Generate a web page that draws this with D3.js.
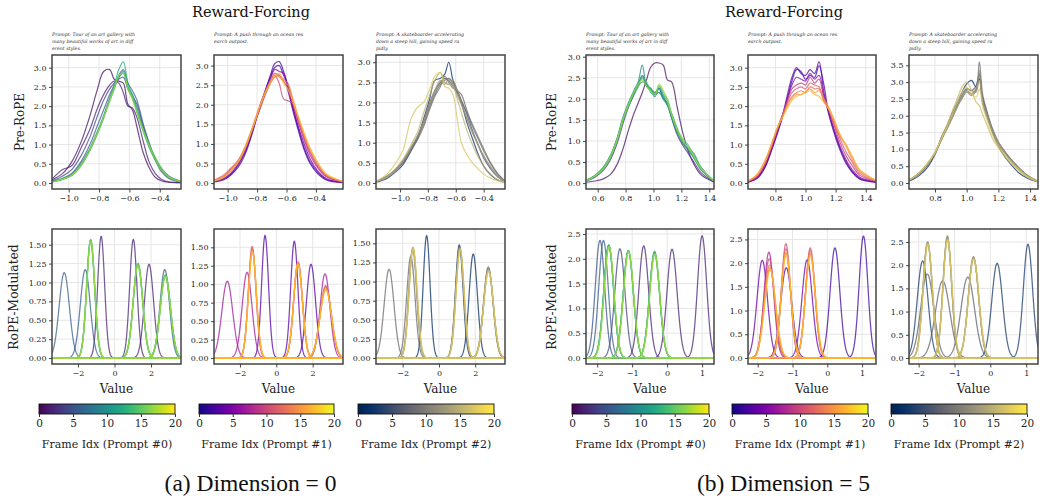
<!DOCTYPE html>
<html><head><meta charset="utf-8">
<script src="https://cdn.jsdelivr.net/npm/d3@7"></script>
<style>body{margin:0;background:#fff} svg{display:block} text{font-family:"DejaVu Serif",serif}</style>
</head><body><svg id="c" width="1043" height="500"></svg>
<script>
// ---------------- DATA ----------------
const titles = ["Reward-Forcing", "Reward-Forcing"];
const captions = ["(a) Dimension = 0", "(b) Dimension = 5"];
const rowLabels = ["Pre-RoPE", "RoPE-Modulated"];
const prompts = [
  ["Prompt: Tour of an art gallery with", "many beautiful works of art in diff", "erent styles."],
  ["Prompt: A push through an ocean res", "earch outpost."],
  ["Prompt: A skateboarder accelerating", "down a steep hill, gaining speed ra", "pidly."]
];
const cbLabels = ["Frame Idx (Prompt #0)", "Frame Idx (Prompt #1)", "Frame Idx (Prompt #2)"];
const cbTicks = [0, 5, 10, 15, 20];
const frameMax = 20;

// Pre-RoPE tick values
const preXTicksA = [-1.0, -0.8, -0.6, -0.4];
const preXTicksB0 = [0.6, 0.8, 1.0, 1.2, 1.4];
const preXTicksB = [0.8, 1.0, 1.2, 1.4];
const preYTicks3 = [0, 0.5, 1.0, 1.5, 2.0, 2.5, 3.0];
const preYTicks35 = [0, 0.5, 1.0, 1.5, 2.0, 2.5, 3.0, 3.5];
const ropeXTicksA = [-2, 0, 2];
const ropeXTicksB = [-2, -1, 0, 1];
const ropeYTicksA = [0, 0.25, 0.5, 0.75, 1.0, 1.25, 1.5];
const ropeYTicksB = [0, 0.5, 1.0, 1.5, 2.0, 2.5];

// Pre-RoPE density curves (knot x, frame index, y per knot)
const preA0_x = [-1.11,-1.04,-0.98,-0.92,-0.86,-0.81,-0.77,-0.73,-0.70,-0.67,-0.64,-0.61,-0.58,-0.55,-0.51,-0.47,-0.43,-0.39,-0.34,-0.26];
const preA0_frames = [1, 2, 4, 6, 8, 10, 12, 15, 17];
const preA0_y = [
  [0.08,0.25,0.55,1.05,1.75,2.45,2.90,2.95,2.70,2.65,2.60,2.05,1.90,1.45,0.80,0.40,0.15,0.06,0.02,0.01],
  [0.10,0.35,0.45,0.90,1.40,1.95,2.30,2.55,2.65,2.60,2.35,2.00,1.95,1.70,1.10,0.55,0.25,0.10,0.03,0.01],
  [0.05,0.18,0.35,0.70,1.20,1.75,2.15,2.45,2.60,2.70,2.75,2.45,2.25,2.05,1.50,1.00,0.60,0.30,0.12,0.02],
  [0.04,0.12,0.25,0.55,1.00,1.50,1.90,2.30,2.55,2.80,2.95,2.60,2.40,2.15,1.55,1.05,0.62,0.36,0.15,0.03],
  [0.03,0.10,0.22,0.50,0.90,1.35,1.75,2.20,2.50,2.75,2.90,2.50,2.30,1.95,1.45,1.00,0.65,0.38,0.18,0.04],
  [0.04,0.11,0.21,0.45,0.85,1.30,1.70,2.15,2.45,2.75,2.85,2.45,2.20,1.85,1.40,0.98,0.62,0.36,0.16,0.03],
  [0.03,0.09,0.20,0.46,0.88,1.32,1.72,2.18,2.52,2.95,3.15,2.60,2.25,1.85,1.35,0.92,0.60,0.34,0.15,0.03],
  [0.03,0.10,0.19,0.44,0.85,1.28,1.68,2.12,2.45,2.78,2.90,2.50,2.25,1.88,1.40,1.00,0.68,0.40,0.17,0.03],
  [0.03,0.10,0.21,0.47,0.88,1.32,1.72,2.15,2.48,2.80,2.85,2.45,2.18,1.82,1.38,0.96,0.62,0.35,0.15,0.03]
];
const preA1_x = [-1.09,-1.03,-0.98,-0.93,-0.88,-0.83,-0.79,-0.75,-0.71,-0.68,-0.65,-0.62,-0.59,-0.56,-0.52,-0.48,-0.44,-0.39,-0.33,-0.22];
const preA1_frames = [2, 3, 5, 8, 10, 12, 15, 17];
const preA1_y = [
  [0.03,0.08,0.20,0.40,0.75,1.30,1.85,2.30,2.75,3.05,3.10,2.85,2.45,1.90,1.35,0.85,0.50,0.25,0.08,0.01],
  [0.04,0.10,0.22,0.45,0.80,1.35,1.85,2.30,2.70,2.95,3.00,2.75,2.50,2.00,1.40,0.90,0.55,0.28,0.10,0.02],
  [0.04,0.12,0.25,0.48,0.85,1.40,1.80,2.25,2.65,2.90,2.85,2.80,2.35,1.95,1.45,1.00,0.62,0.32,0.12,0.02],
  [0.05,0.15,0.30,0.52,0.88,1.40,1.85,2.25,2.60,2.80,2.75,2.60,2.40,2.05,1.55,1.10,0.72,0.40,0.16,0.03],
  [0.06,0.16,0.35,0.55,0.90,1.40,1.80,2.20,2.55,2.75,2.55,2.15,2.10,2.05,1.60,1.15,0.78,0.44,0.18,0.03],
  [0.08,0.20,0.38,0.58,0.92,1.42,1.85,2.25,2.55,2.70,2.75,2.65,2.55,2.15,1.65,1.20,0.82,0.48,0.20,0.04],
  [0.06,0.15,0.32,0.55,0.95,1.45,1.90,2.30,2.60,2.80,2.70,2.60,2.50,2.20,1.70,1.25,0.88,0.52,0.22,0.04],
  [0.05,0.14,0.30,0.52,0.90,1.40,1.85,2.25,2.55,2.75,2.80,2.55,2.40,2.10,1.70,1.28,0.90,0.55,0.24,0.05]
];
const preA2_x = [-1.17,-1.10,-1.04,-0.98,-0.92,-0.87,-0.83,-0.79,-0.75,-0.71,-0.68,-0.65,-0.62,-0.59,-0.56,-0.52,-0.48,-0.44,-0.40,-0.35,-0.30,-0.25];
const preA2_frames = [2, 5, 8, 9, 11, 13, 15, 17];
const preA2_y = [
  [0.02,0.10,0.25,0.45,0.80,1.15,1.60,2.05,2.55,2.60,2.70,3.00,2.55,2.30,2.00,1.50,1.10,0.72,0.42,0.20,0.07,0.02],
  [0.04,0.14,0.30,0.50,0.85,1.20,1.55,1.95,2.30,2.50,2.60,2.55,2.40,2.25,2.05,1.70,1.30,0.95,0.62,0.35,0.15,0.03],
  [0.03,0.15,0.32,0.55,0.85,1.15,1.45,1.85,2.20,2.45,2.55,2.60,2.50,2.30,2.20,1.80,1.40,1.10,0.80,0.48,0.22,0.05],
  [0.04,0.16,0.30,0.50,0.82,1.10,1.40,1.80,2.15,2.40,2.65,2.50,2.35,2.30,2.05,1.75,1.45,1.15,0.85,0.50,0.24,0.06],
  [0.03,0.14,0.28,0.52,0.86,1.18,1.50,1.90,2.25,2.50,2.45,2.60,2.45,2.20,1.95,1.60,1.25,0.95,0.68,0.40,0.18,0.04],
  [0.03,0.13,0.30,0.55,0.90,1.20,1.55,1.95,2.30,2.55,2.50,2.45,2.55,2.30,2.00,1.60,1.25,0.95,0.65,0.38,0.16,0.04],
  [0.04,0.15,0.32,0.58,0.95,1.30,1.75,2.15,2.55,2.75,2.50,2.45,2.40,2.10,1.75,1.30,0.95,0.65,0.42,0.22,0.08,0.02],
  [0.05,0.20,0.45,0.80,1.60,1.90,2.00,2.30,2.65,2.75,2.40,2.35,2.20,1.60,1.00,0.70,0.50,0.35,0.22,0.12,0.05,0.02]
];
const preB0_x = [0.52,0.58,0.64,0.69,0.74,0.78,0.82,0.86,0.89,0.92,0.95,0.98,1.01,1.04,1.07,1.10,1.13,1.17,1.21,1.25,1.29,1.34,1.43];
const preB0_frames = [1, 3, 6, 9, 11, 13, 15, 17];
const preB0_y = [
  [0.02,0.05,0.10,0.20,0.45,0.80,1.25,1.65,1.90,2.15,2.45,2.75,2.85,2.85,2.80,2.45,2.40,1.80,1.20,0.75,0.45,0.20,0.03],
  [0.05,0.14,0.30,0.55,0.95,1.40,1.80,2.10,2.30,2.55,2.35,2.20,2.15,2.25,2.00,1.90,1.55,1.15,0.90,0.70,0.50,0.25,0.04],
  [0.06,0.17,0.35,0.62,1.05,1.50,1.85,2.15,2.35,2.50,2.30,2.25,2.10,2.15,2.05,1.85,1.55,1.20,0.95,0.78,0.60,0.32,0.05],
  [0.07,0.18,0.38,0.65,1.08,1.55,1.90,2.20,2.40,2.80,2.30,2.20,2.05,2.25,2.00,1.85,1.65,1.30,1.00,0.85,0.70,0.38,0.06],
  [0.06,0.16,0.34,0.60,1.02,1.48,1.82,2.10,2.30,2.40,2.35,2.15,2.10,2.30,2.10,1.95,1.60,1.25,1.00,0.80,0.65,0.36,0.06],
  [0.06,0.17,0.36,0.63,1.06,1.52,1.88,2.18,2.35,2.55,2.35,2.25,2.15,2.15,2.00,1.88,1.58,1.22,0.98,0.82,0.60,0.34,0.05],
  [0.07,0.18,0.37,0.64,1.05,1.50,1.86,2.15,2.28,2.50,2.40,2.20,2.12,2.30,2.15,2.00,1.65,1.28,1.05,0.90,0.62,0.35,0.06],
  [0.06,0.16,0.34,0.61,1.03,1.49,1.84,2.16,2.35,2.45,2.30,2.18,2.08,2.35,2.20,1.95,1.62,1.26,1.00,0.84,0.64,0.36,0.06]
];
const preB1_x = [0.62,0.68,0.73,0.77,0.81,0.85,0.88,0.91,0.94,0.97,1.00,1.03,1.06,1.09,1.12,1.15,1.19,1.23,1.27,1.31,1.36,1.47];
const preB1_frames = [2, 3, 6, 9, 11, 13, 15, 17];
const preB1_y = [
  [0.02,0.12,0.40,0.80,1.25,1.75,2.20,2.65,2.95,2.90,2.70,2.80,2.75,3.05,2.60,1.90,1.35,0.90,0.55,0.30,0.12,0.02],
  [0.03,0.14,0.42,0.82,1.30,1.80,2.30,2.75,3.00,2.85,2.80,2.95,2.85,3.15,2.40,1.85,1.30,0.85,0.50,0.28,0.10,0.02],
  [0.03,0.15,0.45,0.85,1.30,1.78,2.20,2.55,2.75,2.70,2.65,2.85,2.70,2.80,2.30,1.90,1.40,0.95,0.60,0.35,0.15,0.03],
  [0.04,0.17,0.48,0.88,1.35,1.80,2.15,2.45,2.55,2.60,2.55,2.75,2.60,2.70,2.25,1.95,1.50,1.05,0.70,0.45,0.20,0.04],
  [0.05,0.20,0.52,0.92,1.38,1.80,2.10,2.35,2.45,2.50,2.45,2.60,2.55,2.50,2.15,1.95,1.55,1.15,0.80,0.55,0.25,0.05],
  [0.05,0.22,0.55,0.95,1.40,1.78,2.05,2.25,2.35,2.40,2.35,2.50,2.45,2.45,2.15,1.95,1.60,1.22,0.95,0.62,0.30,0.06],
  [0.06,0.24,0.58,0.98,1.42,1.75,2.00,2.20,2.30,2.30,2.38,2.45,2.35,2.40,2.20,2.00,1.65,1.25,1.00,0.70,0.35,0.07],
  [0.05,0.22,0.55,0.95,1.40,1.72,1.95,2.15,2.25,2.30,2.35,2.40,2.30,2.25,2.10,1.95,1.62,1.25,0.95,0.65,0.32,0.06]
];
const preB2_x = [0.64,0.70,0.75,0.80,0.84,0.88,0.91,0.94,0.97,1.00,1.03,1.06,1.08,1.10,1.13,1.16,1.20,1.24,1.28,1.33,1.38,1.45];
const preB2_frames = [2, 5, 8, 10, 12, 14, 16, 17];
const preB2_y = [
  [0.06,0.22,0.45,0.85,1.35,1.75,2.10,2.40,2.70,2.95,3.05,2.85,3.10,2.40,1.95,1.55,1.10,0.78,0.55,0.30,0.15,0.03],
  [0.08,0.27,0.52,0.88,1.30,1.70,2.00,2.30,2.60,2.80,2.75,2.90,3.25,2.55,2.05,1.60,1.15,0.88,0.65,0.40,0.20,0.04],
  [0.09,0.30,0.55,0.90,1.28,1.65,1.95,2.25,2.55,2.75,2.65,2.80,3.60,2.65,2.10,1.65,1.22,0.95,0.70,0.45,0.24,0.05],
  [0.09,0.29,0.54,0.87,1.27,1.68,1.98,2.28,2.50,2.70,2.60,2.75,3.20,2.50,2.05,1.62,1.20,0.92,0.70,0.45,0.23,0.05],
  [0.10,0.30,0.55,0.90,1.30,1.70,2.00,2.30,2.58,2.80,2.75,2.70,3.35,2.45,2.00,1.58,1.18,0.90,0.66,0.42,0.22,0.05],
  [0.09,0.29,0.55,0.88,1.28,1.66,1.95,2.25,2.55,2.72,2.65,2.85,3.00,2.40,1.95,1.55,1.15,0.88,0.66,0.42,0.22,0.05],
  [0.10,0.31,0.58,0.92,1.35,1.78,2.15,2.50,2.85,3.00,2.75,2.40,2.30,2.05,1.70,1.35,1.05,0.80,0.58,0.36,0.18,0.04],
  [0.09,0.30,0.56,0.90,1.30,1.72,2.05,2.40,2.70,2.85,2.65,2.55,2.80,2.30,1.85,1.45,1.10,0.85,0.62,0.40,0.20,0.04]
];

// RoPE-modulated peaks: [frame, centre, peak height, width]
const ropeA0 = [
  [2,-0.73,1.61,0.19],[2,1.03,1.57,0.20],[2,1.89,1.24,0.25],
  [6,-2.75,1.13,0.28],[6,-1.60,1.17,0.27],[6,2.75,1.17,0.26],
  [11,-1.31,1.55,0.22],[11,1.29,1.25,0.26],[11,2.79,1.10,0.28],
  [13,-1.30,1.57,0.22],[13,1.28,1.24,0.26],[13,2.78,1.09,0.28],
  [15,-1.31,1.56,0.22],[15,1.28,1.23,0.26],[15,2.78,1.08,0.285],
  [16,-1.30,1.55,0.225],[16,1.29,1.24,0.26],[16,2.79,1.09,0.28],
  [17,-1.30,1.54,0.22],[17,1.28,1.22,0.265],[17,2.78,1.07,0.285]
];
const ropeA1 = [
  [3,-0.62,1.66,0.19],[3,0.99,1.58,0.20],[3,1.91,1.27,0.25],
  [7,-2.70,1.04,0.30],[7,-1.61,1.16,0.27],[7,2.68,1.14,0.27],
  [10,-1.33,1.51,0.21],[10,1.20,1.30,0.24],[10,2.72,0.98,0.31],
  [12,-1.32,1.48,0.215],[12,1.20,1.29,0.24],[12,2.72,0.96,0.31],
  [15,-1.32,1.45,0.22],[15,1.19,1.29,0.24],[15,2.72,0.94,0.32],
  [16,-1.32,1.44,0.22],[16,1.19,1.28,0.24],[16,2.72,0.93,0.32],
  [17,-1.31,1.43,0.22],[17,1.19,1.27,0.245],[17,2.73,0.92,0.32]
];
const ropeA2 = [
  [2,-0.68,1.60,0.19],[2,1.12,1.48,0.21],[2,1.89,1.36,0.23],
  [8,-2.75,1.16,0.27],[8,-1.55,1.33,0.23],[8,2.72,1.19,0.26],
  [10,-1.45,1.42,0.22],[10,1.14,1.45,0.22],[10,2.72,1.17,0.27],
  [12,-1.44,1.44,0.22],[12,1.15,1.44,0.22],[12,2.73,1.16,0.27],
  [15,-1.43,1.45,0.22],[15,1.16,1.43,0.22],[15,2.73,1.15,0.27],
  [16,-1.43,1.44,0.22],[16,1.16,1.42,0.225],[16,2.73,1.14,0.27],
  [17,-1.42,1.43,0.225],[17,1.17,1.41,0.225],[17,2.74,1.13,0.275]
];
const ropeB0 = [
  [2,-0.67,2.26,0.14],[2,0.14,2.19,0.145],[2,1.00,2.46,0.13],
  [4,-1.35,2.20,0.145],[5,-1.92,2.37,0.135],[6,-1.82,2.37,0.135],
  [10,-1.67,2.28,0.14],[10,-1.11,2.16,0.145],[10,-0.36,2.15,0.145],
  [12,-1.67,2.27,0.14],[12,-1.11,2.17,0.145],[12,-0.36,2.13,0.145],
  [14,-1.67,2.26,0.14],[14,-1.11,2.16,0.145],[14,-0.36,2.11,0.145],
  [16,-1.66,2.25,0.14],[16,-1.11,2.15,0.145],[16,-0.36,2.10,0.145],
  [17,-1.66,2.24,0.14],[17,-1.10,2.14,0.145],[17,-0.35,2.09,0.145]
];
const ropeB1 = [
  [2,-1.18,1.90,0.16],[2,0.22,2.32,0.14],[2,1.04,2.57,0.125],
  [4,-1.87,2.06,0.15],[4,-0.58,2.07,0.15],[7,-1.68,2.23,0.14],
  [10,-1.67,2.09,0.15],[10,-1.19,2.41,0.13],[10,-0.49,2.32,0.135],
  [12,-1.66,1.96,0.155],[12,-1.19,2.30,0.135],[12,-0.49,2.26,0.14],
  [14,-1.65,1.90,0.16],[14,-1.19,2.22,0.14],[14,-0.49,2.20,0.14],
  [16,-1.65,1.88,0.16],[16,-1.19,2.20,0.14],[16,-0.49,2.18,0.14],
  [17,-1.64,1.86,0.16],[17,-1.18,2.18,0.14],[17,-0.48,2.16,0.145]
];
const ropeB2 = [
  [3,-1.89,2.09,0.15],[3,0.19,2.04,0.15],[3,1.05,2.45,0.13],
  [7,-1.76,1.81,0.18],[7,-1.33,1.66,0.20],[7,-0.63,1.74,0.19],
  [10,-1.75,2.50,0.13],[10,-1.20,2.63,0.12],[10,-0.47,2.18,0.145],
  [12,-1.75,2.49,0.13],[12,-1.20,2.60,0.12],[12,-0.47,2.17,0.145],
  [14,-1.75,2.47,0.13],[14,-1.20,2.57,0.125],[14,-0.47,2.15,0.145],
  [16,-1.75,2.46,0.13],[16,-1.20,2.55,0.125],[16,-0.47,2.14,0.145],
  [17,-1.74,2.45,0.13],[17,-1.19,2.54,0.125],[17,-0.46,2.13,0.15]
];

// ---------------- LAYOUT ----------------
const svg = d3.select("#c");
const cmaps = [d3.interpolateViridis, d3.interpolatePlasma, d3.interpolateCividis];
const colX = [[[52,181],[214,343],[376,505]], [[586,714],[748,876],[909,1038]]];
const preY = [55, 189], ropeY = [229, 364];
const half = [
  {
    center: 251, cc: 250.5,
    pre: [
      {xd:[-1.11,-0.26], yd:[-0.156,3.33], xt:preXTicksA, yt:preYTicks3, kx:preA0_x, fr:preA0_frames, ys:preA0_y},
      {xd:[-1.093,-0.216], yd:[-0.15,3.27], xt:preXTicksA, yt:preYTicks3, kx:preA1_x, fr:preA1_frames, ys:preA1_y},
      {xd:[-1.172,-0.247], yd:[-0.15,3.18], xt:preXTicksA, yt:preYTicks3, kx:preA2_x, fr:preA2_frames, ys:preA2_y}
    ],
    rope: [
      {xd:[-3.42,3.64], yd:[-0.079,1.708], xt:ropeXTicksA, yt:ropeYTicksA, pk:ropeA0},
      {xd:[-3.43,3.67], yd:[-0.081,1.748], xt:ropeXTicksA, yt:ropeYTicksA, pk:ropeA1},
      {xd:[-3.47,3.64], yd:[-0.078,1.687], xt:ropeXTicksA, yt:ropeYTicksA, pk:ropeA2}
    ],
    yfmtR: d3.format(".2f"),
    cb: [[39,175],[199,334],[358,494]],
    ylx: [24, 17.5]
  },
  {
    center: 784, cc: 783.5,
    pre: [
      {xd:[0.516,1.434], yd:[-0.14,3.04], xt:preXTicksB0, yt:preYTicks3, kx:preB0_x, fr:preB0_frames, ys:preB0_y},
      {xd:[0.618,1.468], yd:[-0.156,3.33], xt:preXTicksB, yt:preYTicks3, kx:preB1_x, fr:preB1_frames, ys:preB1_y},
      {xd:[0.636,1.45], yd:[-0.178,3.806], xt:preXTicksB, yt:preYTicks35, kx:preB2_x, fr:preB2_frames, ys:preB2_y}
    ],
    rope: [
      {xd:[-2.32,1.34], yd:[-0.121,2.60], xt:ropeXTicksB, yt:ropeYTicksB, pk:ropeB0},
      {xd:[-2.28,1.40], yd:[-0.127,2.72], xt:ropeXTicksB, yt:ropeYTicksB, pk:ropeB1},
      {xd:[-2.27,1.33], yd:[-0.129,2.78], xt:ropeXTicksB, yt:ropeYTicksB, pk:ropeB2}
    ],
    yfmtR: d3.format(".1f"),
    cb: [[572,709],[732,868],[891,1027]],
    ylx: [556, 556]
  }
];

let clipId = 0;
function gridLines(g, x0, x1, y0, y1, sx, sy, xt, yt) {
  g.append("g").selectAll("line").data(xt).join("line")
    .attr("x1", d => sx(d)).attr("x2", d => sx(d)).attr("y1", y0).attr("y2", y1)
    .attr("stroke", "#e6e6e6").attr("stroke-width", 1);
  g.append("g").selectAll("line").data(yt).join("line")
    .attr("y1", d => sy(d)).attr("y2", d => sy(d)).attr("x1", x0).attr("x2", x1)
    .attr("stroke", "#e6e6e6").attr("stroke-width", 1);
}
function finishAxes(g, x0, x1, y0, y1, sx, sy, xt, yt, xf, yf) {
  g.append("rect").attr("x", x0).attr("y", y0).attr("width", x1 - x0).attr("height", y1 - y0)
    .attr("fill", "none").attr("stroke", "#444").attr("stroke-width", 1.5);
  const ax = g.append("g").attr("transform", `translate(0,${y1})`)
    .call(d3.axisBottom(sx).tickValues(xt).tickFormat(xf).tickSize(3.5).tickPadding(2.5));
  const ay = g.append("g").attr("transform", `translate(${x0},0)`)
    .call(d3.axisLeft(sy).tickValues(yt).tickFormat(yf).tickSize(3).tickPadding(2.5));
  [ax, ay].forEach(a => {
    a.select(".domain").remove();
    a.selectAll(".tick line").attr("stroke", "#333").attr("stroke-width", 0.9);
    a.selectAll(".tick text").attr("fill", "#222").style("font-size", "8px").style("font-family", "DejaVu Serif");
  });
}
function clipGroup(g, x0, x1, y0, y1) {
  const id = "clip" + (clipId++);
  g.append("clipPath").attr("id", id).append("rect")
    .attr("x", x0).attr("y", y0).attr("width", x1 - x0).attr("height", y1 - y0);
  return g.append("g").attr("clip-path", `url(#${id})`);
}

half.forEach((h, hi) => {
  const g = svg.append("g");
  g.append("text").attr("x", h.center).attr("y", 16.5).attr("text-anchor", "middle")
    .style("font-size", "14.5px").attr("fill", "#111").text(titles[hi]);

  for (let c = 0; c < 3; c++) {
    const [x0, x1] = colX[hi][c];
    const cmap = cmaps[c];
    prompts[c].forEach((line, li) => {
      g.append("text").attr("x", x0).attr("y", 35.5 + li * 7).style("font-size", "4.7px")
        .style("font-style", "italic").attr("fill", "#333").text(line);
    });
    // Pre-RoPE
    const p = h.pre[c];
    const sx = d3.scaleLinear().domain(p.xd).range([x0, x1]);
    const sy = d3.scaleLinear().domain(p.yd).range([preY[1], preY[0]]);
    gridLines(g, x0, x1, preY[0], preY[1], sx, sy, p.xt, p.yt);
    const cg = clipGroup(g, x0, x1, preY[0], preY[1]);
    const line = d3.line().x(d => sx(d[0])).y(d => sy(d[1])).curve(d3.curveCatmullRom.alpha(0.5));
    p.ys.forEach((ys, i) => {
      const pts = p.kx.map((x, k) => [x, ys[k]]);
      cg.append("path").attr("d", line(pts)).attr("fill", "none")
        .attr("stroke", cmap(p.fr[i] / frameMax)).attr("stroke-opacity", 0.75).attr("stroke-width", 1.2);
    });
    finishAxes(g, x0, x1, preY[0], preY[1], sx, sy, p.xt, p.yt, d3.format(".1f"), d3.format(".1f"));

    // RoPE-modulated
    const r = h.rope[c];
    const rx = d3.scaleLinear().domain(r.xd).range([x0, x1]);
    const ry = d3.scaleLinear().domain(r.yd).range([ropeY[1], ropeY[0]]);
    gridLines(g, x0, x1, ropeY[0], ropeY[1], rx, ry, r.xt, r.yt);
    const rg = clipGroup(g, x0, x1, ropeY[0], ropeY[1]);
    const xs = d3.range(401).map(i => r.xd[0] + (r.xd[1] - r.xd[0]) * i / 400);
    const rline = d3.line().x(d => rx(d[0])).y(d => ry(d[1]));
    r.pk.forEach(([f, mu, ht, sg]) => {
      const pts = xs.map(x => [x, ht * Math.exp(-0.5 * ((x - mu) / sg) ** 2)]);
      rg.append("path").attr("d", rline(pts)).attr("fill", "none")
        .attr("stroke", cmap(f / frameMax)).attr("stroke-opacity", 0.75).attr("stroke-width", 1.25);
    });
    finishAxes(g, x0, x1, ropeY[0], ropeY[1], rx, ry, r.xt, r.yt, d3.format("d"), h.yfmtR);
    g.append("text").attr("x", (x0 + x1) / 2).attr("y", 392.5).attr("text-anchor", "middle")
      .style("font-size", "12px").attr("fill", "#222").text("Value");

    // colorbar
    const [c0, c1] = h.cb[c];
    const gid = `grad${hi}${c}`;
    const grad = svg.append("defs").append("linearGradient").attr("id", gid);
    d3.range(0, 1.0001, 0.05).forEach(t => grad.append("stop").attr("offset", t).attr("stop-color", cmap(t)));
    g.append("rect").attr("x", c0).attr("y", 404).attr("width", c1 - c0).attr("height", 10)
      .attr("fill", `url(#${gid})`).attr("stroke", "#111").attr("stroke-width", 0.9);
    const cs = d3.scaleLinear().domain([0, frameMax]).range([c0, c1]);
    const ca = g.append("g").attr("transform", "translate(0,414)")
      .call(d3.axisBottom(cs).tickValues(cbTicks).tickFormat(d3.format("d")).tickSize(3).tickPadding(2.5));
    ca.select(".domain").remove();
    ca.selectAll(".tick line").attr("stroke", "#333");
    ca.selectAll(".tick text").attr("fill", "#222").style("font-size", "10.5px").style("font-family", "DejaVu Serif");
    g.append("text").attr("x", (c0 + c1) / 2).attr("y", 448).attr("text-anchor", "middle")
      .style("font-size", "11px").attr("fill", "#222").text(cbLabels[c]);
  }
  g.append("text").attr("transform", `translate(${h.ylx[0]},122) rotate(-90)`).attr("text-anchor", "middle")
    .style("font-size", "12px").attr("fill", "#222").text(rowLabels[0]);
  g.append("text").attr("transform", `translate(${h.ylx[1]},297) rotate(-90)`).attr("text-anchor", "middle")
    .style("font-size", "12.3px").attr("fill", "#222").text(rowLabels[1]);
  g.append("text").attr("x", h.cc).attr("y", 491).attr("text-anchor", "middle")
    .style("font-family", "'Liberation Serif','Times New Roman',serif").style("font-size", "23.5px")
    .attr("fill", "#111").text(captions[hi]);
});
</script></body></html>
